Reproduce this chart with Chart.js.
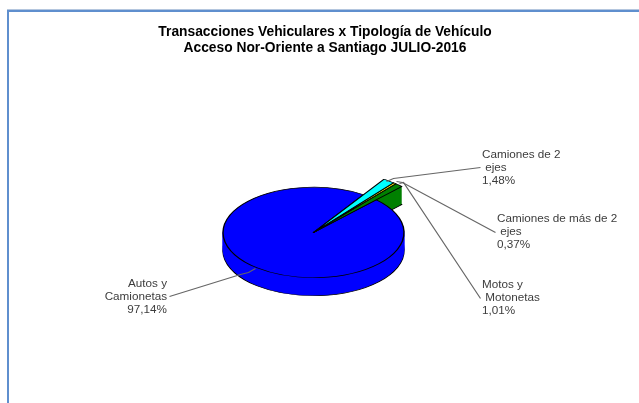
<!DOCTYPE html>
<html><head><meta charset="utf-8">
<style>
html,body{margin:0;padding:0;background:#fff;overflow:hidden;width:639px;height:403px}
#frame{position:absolute;left:7px;top:10px;width:640px;height:400px;border-left:2px solid #5f8fce;border-top:2px solid #5f8fce;box-sizing:border-box;box-shadow:0 -1px 0 #b4c6de}
#wrap{position:absolute;left:11px;top:0;width:628px;height:403px}
</style>
<script src="https://cdn.jsdelivr.net/npm/chart.js@4"></script>
</head><body>
<div id="frame"></div>
<div id="wrap"><canvas id="c" width="628" height="403"></canvas></div>
<script>
const categories = ["Camiones de 2 ejes","Camiones de más de 2 ejes","Motos y Motonetas","Autos y Camionetas"];
const shares = [1.48,0.37,1.01,97.14];
const shareLabels = ["1,48%","0,37%","1,01%","97,14%"];
const sliceColors = ["#00ffff","#ffff00","#008000","#0000ff"];
const titleLines = ["Transacciones Vehiculares x Tipología de Vehículo","Acceso Nor-Oriente a Santiago JULIO-2016"];
const labelLines = [["Camiones de 2"," ejes"],["Camiones de más de 2"," ejes"],["Motos y"," Motonetas"],["Autos y","Camionetas"]];

const PIE = {cx:302.5, cy:232.5, squash:0.5, depth:18, exploded:1.41};
// canvas-space layout of the callouts (canvas starts at x=11)
const CALLOUTS = [
 {x:471,y:155,align:'left',pts:[[375,181],[382,178],[469,167]]},
 {x:486,y:219,align:'left',pts:[[385,181],[391,182],[484,232]]},
 {x:471,y:285,align:'left',pts:[[388,183],[392,182],[469,298]]},
 {x:156,y:284,align:'right',pts:[[158,296],[229,274],[237,272],[244,268]]}
];

const pie3d = {
  id:'pie3d',
  afterDatasetsUpdate(chart){
    const arcs = chart.getDatasetMeta(0).data;
    arcs.forEach((a,i)=>{ if(i<3) a.outerRadius = chart.options.plugins.pie3d.radius*PIE.exploded; });
  },
  beforeDatasetsDraw(chart){
    const ctx = chart.ctx, arcs = chart.getDatasetMeta(0).data;
    const cx0 = arcs[0].x, cy0 = arcs[0].y;
    const paint = (arc,dy,border)=>{
      const o = arc.options;
      const saved = arc.options;
      arc.options = {backgroundColor:o.backgroundColor,borderColor:border?'#000':o.backgroundColor,borderWidth:border?1.4:0.6,borderAlign:'center',borderJoinStyle:'round',borderDash:[],borderDashOffset:0,offset:0,spacing:0,circular:true,selfJoin:false};
      ctx.save();
      ctx.translate(PIE.cx,PIE.cy+dy);
      ctx.scale(1,PIE.squash);
      ctx.translate(-cx0,-cy0);
      arc.draw(ctx);
      ctx.restore();
      arc.options = saved;
    };
    const walls = arc=>{
      paint(arc,PIE.depth,true);
      for(let d=PIE.depth-1;d>0;d--) paint(arc,d,false);
    };
    walls(arcs[3]);
    walls(arcs[2]);
    paint(arcs[3],0,true);
    paint(arcs[2],0,true);
    paint(arcs[1],0,true);
    paint(arcs[0],0,true);
    // callouts
    ctx.save();
    ctx.textBaseline='middle';
    ctx.font='11.7px "Liberation Sans", Arial, sans-serif';
    CALLOUTS.forEach((c,i)=>{
      ctx.strokeStyle='#666';ctx.lineWidth=1.2;
      ctx.beginPath();
      c.pts.forEach((p,j)=>j?ctx.lineTo(p[0]+.5,p[1]+.5):ctx.moveTo(p[0]+.5,p[1]+.5));
      ctx.stroke();
      ctx.fillStyle='#3c3c3c';ctx.textAlign=c.align;
      const lines=[...labelLines[i],shareLabels[i]];
      lines.forEach((t,k)=>ctx.fillText(t,c.x,c.y+k*13));
    });
    ctx.restore();
    return false;
  }
};

new Chart(document.getElementById('c'),{
  type:'pie',
  data:{labels:categories,datasets:[{data:shares,backgroundColor:sliceColors,borderColor:'#000',borderWidth:1}]},
  options:{
    responsive:false,animation:false,rotation:33.5,radius:90.5,
    events:[],
    plugins:{
      legend:{display:false},tooltip:{enabled:false},
      pie3d:{radius:90.5},
      title:{display:true,text:titleLines,color:'#000',
        font:{family:'"Liberation Sans", Arial, sans-serif',size:13.8,weight:'bold',lineHeight:1.16},
        padding:{top:24,bottom:0}}
    }
  },
  plugins:[pie3d]
});
</script>
</body></html>
